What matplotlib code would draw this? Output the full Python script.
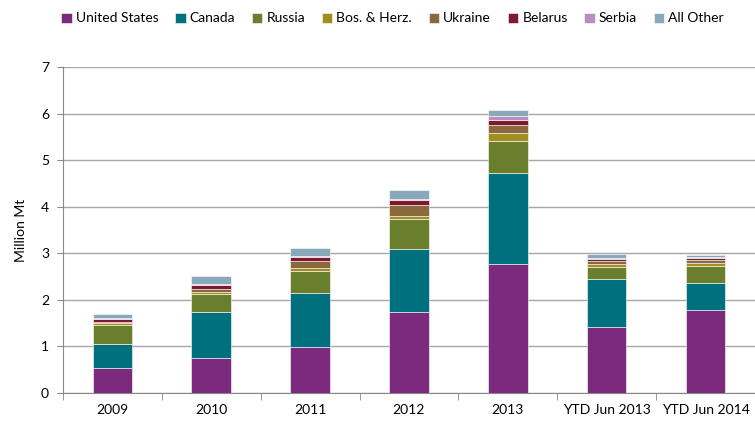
import matplotlib.pyplot as plt
import numpy as np

categories = ['2009', '2010', '2011', '2012', '2013', 'YTD Jun 2013', 'YTD Jun 2014']
series = ['United States', 'Canada', 'Russia', 'Bos. & Herz.', 'Ukraine', 'Belarus', 'Serbia', 'All Other']
us = [0.54, 0.76, 0.99, 1.75, 2.77, 1.42, 1.79]
canada = [0.51, 0.97, 1.16, 1.35, 1.95, 1.03, 0.58]
russia = [0.41, 0.39, 0.47, 0.64, 0.69, 0.26, 0.36]
bosnia = [0.04, 0.04, 0.06, 0.07, 0.18, 0.07, 0.07]
ukraine = [0.03, 0.07, 0.15, 0.22, 0.16, 0.05, 0.05]
belarus = [0.06, 0.10, 0.09, 0.11, 0.11, 0.05, 0.05]
serbia = [0.02, 0.02, 0.03, 0.02, 0.09, 0.02, 0.03]
other = [0.09, 0.16, 0.16, 0.21, 0.12, 0.08, 0.03]
colors = ['#7B2A7E', '#00707F', '#6A7F2E', '#A08F20', '#8A6A3C', '#7D1A2E', '#B98FC0', '#87A9B9']

plt.rcParams['font.family'] = ['Lato', 'DejaVu Sans']
fig = plt.figure(figsize=(7.55, 4.22), dpi=100)
ax = fig.add_axes([0.0834, 0.0687, 0.9166, 0.7723])

x = np.arange(len(categories))
bottom = np.zeros(len(categories))
for name, vals, c in zip(series, [us, canada, russia, bosnia, ukraine, belarus, serbia, other], colors):
    ax.bar(x, vals, 0.4, bottom=bottom, color=c, label=name, edgecolor='#ffffff', linewidth=0.4, zorder=3)
    bottom += np.array(vals)

ax.set_xlim(-0.5, len(categories) - 0.5)
ax.set_ylim(0, 7)
ax.set_yticks(range(8))
ax.yaxis.grid(True, color='#a6a6a6', linewidth=1)
ax.set_axisbelow(True)
ax.set_xticks(x)
ax.set_xticklabels(categories, fontsize=10)
ax.set_xticks(np.arange(-0.5, len(categories), 1), minor=True)
ax.tick_params(axis='x', which='major', length=0, pad=8)
ax.tick_params(axis='x', which='minor', length=5, color='#888888')
ax.tick_params(axis='y', labelsize=10, length=4, color='#888888', pad=6)
for s in ['top', 'right']:
    ax.spines[s].set_visible(False)
ax.spines['left'].set_color('#888888')
ax.spines['bottom'].set_color('#888888')
ax.set_ylabel('Million Mt', fontsize=10, labelpad=10)

fig.legend(loc='upper center', bbox_to_anchor=(0.52, 1.0), ncol=8, frameon=False,
           fontsize=10, handlelength=0.75, handleheight=0.75, handletextpad=0.3, columnspacing=1.2)
fig.savefig('out.png')
